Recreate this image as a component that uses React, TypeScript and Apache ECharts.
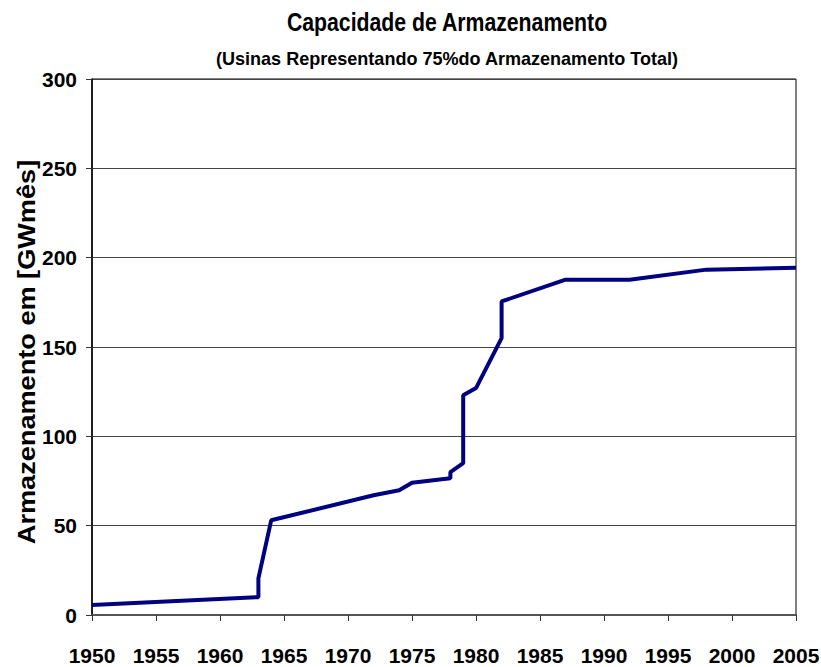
import React, { useEffect, useRef } from "react";
import * as echarts from "echarts";

const years = [1950, 1963, 1963, 1964, 1972, 1974, 1975, 1978, 1978, 1979, 1979, 1980, 1982, 1982, 1987, 1992, 1998, 2005];
const storage = [5.6, 10, 20.5, 53, 67, 69.8, 74, 76.5, 80, 85, 123, 127, 155, 175.5, 187.7, 187.7, 193.3, 194.3];
const xTicks = [1950, 1955, 1960, 1965, 1970, 1975, 1980, 1985, 1990, 1995, 2000, 2005];
const yTicks = [0, 50, 100, 150, 200, 250, 300];

const titleText = "Capacidade de Armazenamento";
const subtitleText = "(Usinas Representando 75%do Armazenamento Total)";
const yName = "Armazenamento em [GWmês]";

const FONT = "'Liberation Sans', Arial, sans-serif";

export default function App() {
  const ref = useRef<HTMLDivElement>(null);
  useEffect(() => {
    if (!ref.current) return;
    const chart = echarts.init(ref.current, null, { renderer: "svg" });
    chart.setOption({
      animation: false,
      backgroundColor: "#ffffff",
      graphic: [
        {
          type: "text",
          x: 447,
          y: 22,
          scaleX: 0.85,
          style: {
            text: titleText,
            fontFamily: FONT,
            fontWeight: "bold",
            fontSize: 25,
            fill: "#000",
            align: "center",
            verticalAlign: "middle",
          },
        },
        {
          type: "text",
          x: 447,
          y: 58,
          scaleX: 0.95,
          style: {
            text: subtitleText,
            fontFamily: FONT,
            fontWeight: "bold",
            fontSize: 19,
            fill: "#000",
            align: "center",
            verticalAlign: "middle",
          },
        },
        {
          type: "text",
          x: 27,
          y: 352,
          rotation: Math.PI / 2,
          scaleX: 1.18,
          style: {
            text: yName,
            fontFamily: FONT,
            fontWeight: "bold",
            fontSize: 23,
            fill: "#000",
            align: "center",
            verticalAlign: "middle",
          },
        },
      ],
      grid: {
        left: 92,
        right: 25,
        top: 79,
        bottom: 52,
        outerBoundsMode: "none",
        containLabel: false,
        show: true,
        borderColor: "#000",
        borderWidth: 1,
      },
      xAxis: {
        type: "value",
        min: xTicks[0],
        max: xTicks[xTicks.length - 1],
        interval: 5,
        axisLine: { show: true, onZero: false, lineStyle: { color: "#555", width: 2 } },
        axisTick: { show: true, length: 6, lineStyle: { color: "#333" } },
        axisLabel: {
          margin: 30,
          fontFamily: FONT,
          fontWeight: "bold",
          fontSize: 21,
          color: "#000",
          formatter: (v: number) => String(v),
        },
        splitLine: { show: false },
      },
      yAxis: {
        type: "value",
        min: yTicks[0],
        max: yTicks[yTicks.length - 1],
        interval: 50,
        axisLine: { show: true, lineStyle: { color: "#000", width: 1.5 } },
        axisTick: { show: true, length: 6, lineStyle: { color: "#333" } },
        axisLabel: { margin: 15, fontFamily: FONT, fontWeight: "bold", fontSize: 21, color: "#000" },
        splitLine: { show: true, lineStyle: { color: "#444", width: 1 } },
      },
      series: [
        {
          type: "line",
          data: years.map((y, i) => [y, storage[i]]),
          showSymbol: false,
          symbol: "none",
          lineStyle: { color: "#000080", width: 4 },
          itemStyle: { color: "#000080" },
        },
      ],
    });
    return () => chart.dispose();
  }, []);
  return (
    <div
      ref={ref}
      style={{ position: "fixed", left: 0, top: 0, width: 821, height: 667, background: "#fff" }}
    />
  );
}
